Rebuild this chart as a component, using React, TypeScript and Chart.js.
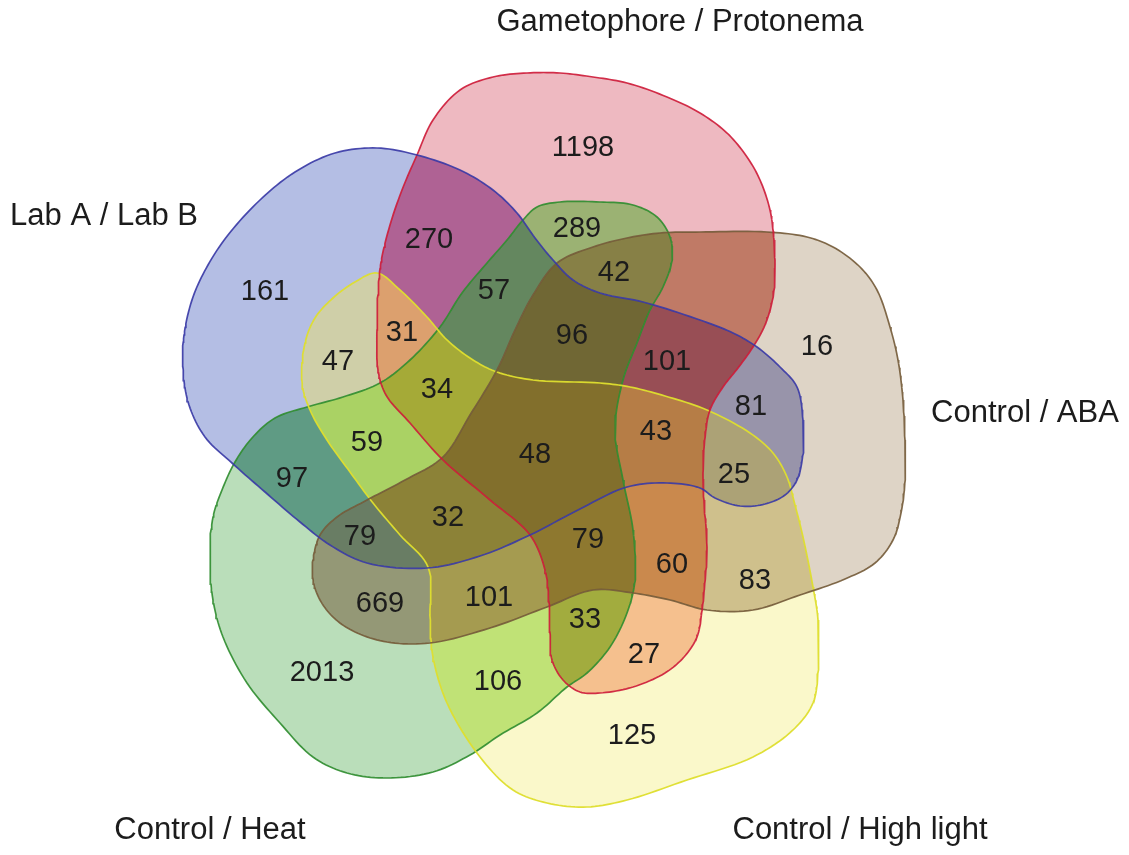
import React, { useEffect, useRef } from "react";
import { Chart, registerables } from "chart.js";

Chart.register(...registerables);

// ---------------- data ----------------
const setNames = ["Lab A / Lab B", "Gametophore / Protonema", "Control / ABA", "Control / High light", "Control / Heat"];
const setKeys = ["A", "G", "B", "H", "T"];

// region membership (letters of setKeys) and the counts shown in each region
const regionSets = [
  "A", "G", "B", "H", "T",
  "AG", "AB", "AH", "AT", "GB", "GH", "GT", "BH", "BT", "HT",
  "AGT", "AGH", "AHT", "ABT", "BHT", "GBH", "ABH", "AGB", "GBT", "GHT",
  "AGBT", "AGHT", "ABHT", "GBHT", "AGBH",
  "AGBHT",
];
const regionCounts: (number | null)[] = [
  161, 1198, 16, 125, 2013,
  270, 81, 47, 97, null, 27, 289, 83, 669, 106,
  57, 31, 59, 79, 101, 60, 25, 101, 42, 33,
  96, 34, 32, 79, 43,
  48,
];

// ---------------- layout / geometry (chart value space, 0..1129 x 0..855) ----------------
const W = 1129;
const H = 855;

const regionLabelXY = [
  [265, 292], [583, 148], [817, 347], [632, 736], [322, 673],
  [429, 240], [751, 407], [338, 362], [292, 479], [720, 285], [644, 655], [577, 229], [755, 581], [380, 604], [498, 682],
  [494, 291], [402, 333], [367, 443], [360, 537], [489, 598], [672, 565], [734, 475], [667, 362], [614, 273], [585, 620],
  [572, 336], [437, 390], [448, 518], [588, 540], [656, 432],
  [535, 455],
];
const setNameXY = [[104, 216], [680, 22], [1025, 413], [860, 830], [210, 830]];

const outlineA = [[377,148],[417,155],[460,170],[493,190],[517,213],[535,238],[553,260],[573,280],[600,293],[643,302],[700,320],[733,333],[757,347],[780,367],[797,387],[803,420],[803,453],[797,480],[785,495],[765,504],[740,506],[715,498],[700,488],[667,483],[627,487],[578,510],[530,535],[480,556],[427,568],[367,563],[330,545],[300,522],[265,492],[232,463],[205,437],[189,405],[183,370],[184,335],[193,297],[208,265],[228,235],[260,200],[295,172],[335,153]];
const outlineG = [[493,77],[527,73],[560,73],[593,77],[627,83],[667,97],[700,113],[727,133],[747,157],[760,180],[770,210],[774,240],[775,265],[773,297],[765,325],[753,347],[738,368],[723,387],[710,410],[705,437],[703,470],[704,500],[707,547],[705,580],[702,610],[697,637],[684,657],[665,673],[633,687],[600,693],[580,692],[563,680],[552,660],[550,635],[549,605],[545,570],[530,535],[490,500],[443,460],[410,423],[386,395],[378,370],[377,330],[378,295],[381,262],[390,225],[402,190],[417,155],[433,120],[460,90]];
const outlineB = [[660,233],[700,232],[767,232],[807,237],[833,247],[860,267],[877,290],[890,327],[898,360],[903,400],[905,440],[905,480],[901,513],[893,540],[875,563],[845,579],[800,595],[753,610],[707,610],[670,600],[633,593],[593,590],[547,607],[490,628],[430,643],[387,642],[355,632],[334,618],[320,600],[313,580],[313,560],[320,535],[337,517],[367,500],[405,480],[443,457],[470,415],[497,370],[515,330],[533,295],[557,263],[593,247],[627,238]];
const outlineH = [[377,273],[400,290],[427,317],[447,340],[473,360],[497,372],[533,380],[600,383],[630,387],[665,396],[707,410],[750,433],[773,453],[787,477],[795,505],[803,537],[813,587],[818,620],[818,670],[813,703],[793,730],[753,757],[687,780],[627,800],[587,807],[547,803],[513,790],[480,757],[447,703],[433,657],[430,620],[428,567],[400,535],[373,503],[350,472],[327,440],[310,410],[302,383],[305,343],[315,318],[333,298],[355,282]];
const outlineT = [[560,202],[600,202],[633,205],[657,217],[670,237],[672,260],[663,287],[650,310],[637,343],[623,380],[615,430],[623,480],[633,530],[635,580],[627,613],[610,647],[587,673],[567,687],[537,713],[500,735],[470,755],[433,772],[387,778],[347,773],[313,757],[280,723],[247,683],[223,637],[213,600],[210,560],[213,517],[222,490],[235,462],[252,438],[275,418],[307,407],[343,397],[380,383],[410,360],[440,327],[462,293],[487,263],[507,240],[523,220],[537,207]];
const outlines = [outlineA, outlineG, outlineB, outlineH, outlineT];

// ---------------- styles ----------------
const setStroke = [
  "rgba(55,55,165,0.9)",
  "rgba(205,25,55,0.9)",
  "rgba(115,90,55,0.9)",
  "rgba(222,222,45,0.95)",
  "rgba(45,140,45,0.9)",
];
const regionFill = [
  "rgb(180,190,228)", "rgb(238,185,193)", "rgb(222,212,198)", "rgb(250,248,202)", "rgb(186,222,186)",
  "rgb(175,98,148)", "rgb(152,148,170)", "rgb(207,207,168)", "rgb(95,155,132)", "rgb(192,122,102)",
  "rgb(245,192,142)", "rgb(155,178,115)", "rgb(207,192,140)", "rgb(148,152,118)", "rgb(192,226,118)",
  "rgb(100,135,95)", "rgb(220,160,110)", "rgb(170,210,100)", "rgb(105,125,100)", "rgb(165,155,80)",
  "rgb(202,137,77)", "rgb(172,162,118)", "rgb(152,78,85)", "rgb(135,128,70)", "rgb(162,172,62)",
  "rgb(112,103,52)", "rgb(165,170,55)", "rgb(140,130,55)", "rgb(142,120,47)", "rgb(182,125,70)",
  "rgb(130,111,44)",
];
const FONT_NUM = '29px "Liberation Sans", Arial, Helvetica, sans-serif';
const FONT_NAME = '31px "Liberation Sans", Arial, Helvetica, sans-serif';
const TEXT_COLOR = "#1c1c1c";

// ---------------- helpers ----------------
function smoothClosed(pts: number[][], steps = 10) {
  const n = pts.length;
  const out: { x: number; y: number }[] = [];
  const d = (a: number[], b: number[]) => Math.max(1e-3, Math.sqrt(Math.hypot(b[0] - a[0], b[1] - a[1])));
  for (let i = 0; i < n; i++) {
    const p0 = pts[(i - 1 + n) % n], p1 = pts[i], p2 = pts[(i + 1) % n], p3 = pts[(i + 2) % n];
    const t0 = 0, t1 = t0 + d(p0, p1), t2 = t1 + d(p1, p2), t3 = t2 + d(p2, p3);
    for (let s = 0; s < steps; s++) {
      const t = t1 + ((t2 - t1) * s) / steps;
      const mix = (a: number[], b: number[], ta: number, tb: number) => [
        ((tb - t) / (tb - ta)) * a[0] + ((t - ta) / (tb - ta)) * b[0],
        ((tb - t) / (tb - ta)) * a[1] + ((t - ta) / (tb - ta)) * b[1],
      ];
      const A1 = mix(p0, p1, t0, t1);
      const A2 = mix(p1, p2, t1, t2);
      const A3 = mix(p2, p3, t2, t3);
      const B1 = mix(A1, A2, t0, t2);
      const B2 = mix(A2, A3, t1, t3);
      const C = mix(B1, B2, t1, t2);
      out.push({ x: C[0], y: C[1] });
    }
  }
  out.push({ ...out[0] });
  return out;
}

const NSETS = setKeys.length;
const LABEL_DS = NSETS;
const NAME_DS = NSETS + 1;

const shownRegions = regionCounts
  .map((v, i) => ({ v, i }))
  .filter((r) => r.v !== null);

const vennFillPlugin = {
  id: "vennFill",
  beforeDatasetsDraw(chart: any) {
    const ctx: CanvasRenderingContext2D = chart.ctx;
    const w = chart.width, h = chart.height;
    const paths: Path2D[] = [];
    for (let i = 0; i < NSETS; i++) {
      const meta = chart.getDatasetMeta(i);
      const p = new Path2D();
      meta.data.forEach((pt: any, j: number) => (j ? p.lineTo(pt.x, pt.y) : p.moveTo(pt.x, pt.y)));
      p.closePath();
      paths.push(p);
    }
    const outs = paths.map((p) => {
      const q = new Path2D();
      q.rect(-10, -10, w + 20, h + 20);
      q.addPath(p);
      return q;
    });
    regionSets.forEach((code, r) => {
      ctx.save();
      setKeys.forEach((k, i) => {
        if (code.includes(k)) ctx.clip(paths[i]);
        else ctx.clip(outs[i], "evenodd");
      });
      ctx.fillStyle = regionFill[r];
      ctx.fillRect(0, 0, w, h);
      ctx.restore();
    });
  },
  afterDatasetsDraw(chart: any) {
    const ctx: CanvasRenderingContext2D = chart.ctx;
    ctx.save();
    ctx.fillStyle = TEXT_COLOR;
    ctx.textAlign = "center";
    ctx.textBaseline = "middle";
    ctx.font = FONT_NUM;
    const lm = chart.getDatasetMeta(LABEL_DS);
    lm.data.forEach((pt: any, j: number) => {
      ctx.fillText(String(shownRegions[j].v), pt.x, pt.y);
    });
    ctx.font = FONT_NAME;
    const nm = chart.getDatasetMeta(NAME_DS);
    nm.data.forEach((pt: any, j: number) => {
      ctx.fillText(setNames[j], pt.x, pt.y);
    });
    ctx.restore();
  },
};

export default function App() {
  const ref = useRef<HTMLCanvasElement>(null);
  useEffect(() => {
    const shapeDatasets = outlines.map((o, i) => ({
      label: setNames[i],
      data: smoothClosed(o),
      showLine: true,
      borderColor: setStroke[i],
      backgroundColor: "rgba(0,0,0,0)",
      borderWidth: 1.7,
      pointRadius: 0,
      pointHoverRadius: 0,
      tension: 0,
      fill: false,
    }));
    const labelDataset = {
      label: "counts",
      data: shownRegions.map((r) => ({ x: regionLabelXY[r.i][0], y: regionLabelXY[r.i][1] })),
      pointRadius: 0,
      showLine: false,
    };
    const nameDataset = {
      label: "names",
      data: setNameXY.map((p) => ({ x: p[0], y: p[1] })),
      pointRadius: 0,
      showLine: false,
    };
    const chart = new Chart(ref.current!, {
      type: "scatter",
      data: { datasets: [...shapeDatasets, labelDataset, nameDataset] as any },
      options: {
        animation: false,
        responsive: false,
        devicePixelRatio: 1,
        events: [],
        layout: { padding: 0 },
        scales: {
          x: { type: "linear", min: 0, max: W, display: false },
          y: { type: "linear", min: 0, max: H, reverse: true, display: false },
        },
        plugins: { legend: { display: false }, tooltip: { enabled: false }, title: { display: false } },
      },
      plugins: [vennFillPlugin],
    });
    return () => chart.destroy();
  }, []);
  return (
    <div style={{ position: "absolute", left: 0, top: 0, width: W, height: H, background: "#ffffff" }}>
      <canvas ref={ref} width={W} height={H} style={{ display: "block", width: W, height: H }} />
    </div>
  );
}
